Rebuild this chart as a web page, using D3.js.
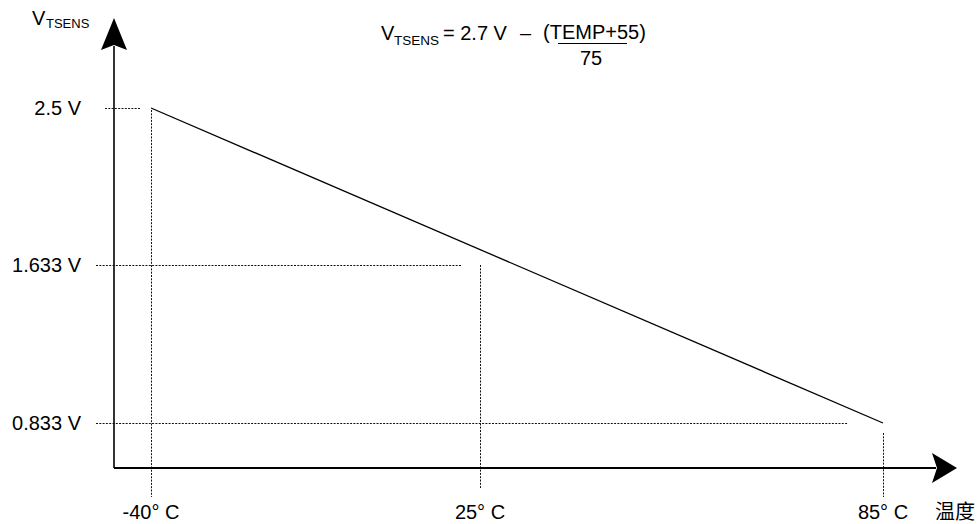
<!DOCTYPE html>
<html>
<head>
<meta charset="utf-8">
<script src="https://cdn.jsdelivr.net/npm/d3@7"></script>
<style>
  html, body { margin: 0; padding: 0; background: #fff; }
  svg { display: block; }
  text { font-family: "Liberation Sans", Arial, Helvetica, sans-serif; fill: #000; }
  .cjk { font-family: "Noto Sans CJK SC", "Noto Sans CJK JP", sans-serif; }
</style>
</head>
<body>
<svg id="chart" width="978" height="524"></svg>
<script>
// ---- data ----
const tempTicks = [-40, 25, 85];
const tempTickLabels = ["-40° C", "25° C", "85° C"];
const voltTicks = [2.5, 1.633, 0.833];
const voltTickLabels = ["2.5 V", "1.633 V", "0.833 V"];
const lineTemps = [-40, 85];
const lineVolts = [2.5, 0.833];
const yAxisTitle = ["V", "TSENS"];
const xAxisTitle = "温度";
const formulaLeft = ["V", "TSENS", "= 2.7 V", "–"];
const formulaNum = "(TEMP+55)";
const formulaDen = "75";

// ---- layout ----
const svg = d3.select("#chart");
const originX = 114, originY = 468;

// schematic (piecewise) scales through the labelled ticks
const x = d3.scaleLinear().domain(tempTicks.slice().sort((a, b) => a - b)).range([151, 480, 883]);
const y = d3.scaleLinear().domain(voltTicks.slice().sort((a, b) => a - b)).range([423, 265, 108]);

// guides
const hStart = [105, 96, 96];
const hGap = [10, 18, 35];
const vTopGap = [2, 0, 10];
const vBottom = [497, 488, 497];
const dash = "2,1.3";

const g = svg.append("g");

// horizontal dotted guides
g.selectAll("line.hg").data(voltTicks).join("line")
  .attr("class", "hg")
  .attr("x1", (d, i) => hStart[i])
  .attr("x2", (d, i) => x(tempTicks[i]) - hGap[i])
  .attr("y1", d => Math.round(y(d)) + 0.5).attr("y2", d => Math.round(y(d)) + 0.5)
  .attr("stroke", "#111").attr("stroke-width", 1)
  .attr("stroke-dasharray", dash);

// vertical dotted guides
g.selectAll("line.vg").data(tempTicks).join("line")
  .attr("class", "vg")
  .attr("x1", d => Math.round(x(d)) + 0.5).attr("x2", d => Math.round(x(d)) + 0.5)
  .attr("y1", (d, i) => y(voltTicks[i]) + vTopGap[i])
  .attr("y2", (d, i) => vBottom[i])
  .attr("stroke", "#111").attr("stroke-width", 1)
  .attr("stroke-dasharray", dash);

// axes
g.append("line").attr("x1", originX).attr("x2", originX).attr("y1", originY).attr("y2", 46)
  .attr("stroke", "#000").attr("stroke-width", 1.6);
g.append("line").attr("x1", originX).attr("x2", 936).attr("y1", originY).attr("y2", originY)
  .attr("stroke", "#000").attr("stroke-width", 1.8);

// arrowheads
g.append("path")
  .attr("d", `M${originX},18 L${originX + 13},50 L${originX},45 L${originX - 13},50 Z`)
  .attr("fill", "#000");
g.append("path")
  .attr("d", `M957,${originY} L932,${originY - 15} L937,${originY} L932,${originY + 15} Z`)
  .attr("fill", "#000");

// main line
const lineGen = d3.line().x(d => x(d[0])).y(d => y(d[1]));
g.append("path")
  .datum(lineTemps.map((t, i) => [t, lineVolts[i]]))
  .attr("d", lineGen)
  .attr("fill", "none").attr("stroke", "#000").attr("stroke-width", 1.3);

// y tick labels
g.selectAll("text.yl").data(voltTicks).join("text")
  .attr("class", "yl")
  .attr("x", 81).attr("y", d => y(d)).attr("dy", "0.37em")
  .attr("text-anchor", "end").attr("font-size", 20)
  .text((d, i) => voltTickLabels[i]);

// x tick labels
g.selectAll("text.xl").data(tempTicks).join("text")
  .attr("class", "xl")
  .attr("x", d => x(d)).attr("y", 519)
  .attr("text-anchor", "middle").attr("font-size", 20)
  .text((d, i) => tempTickLabels[i]);

// x axis title
g.append("text").attr("class", "cjk").attr("x", 935).attr("y", 519)
  .attr("font-size", 20).text(xAxisTitle);

// y axis title
g.append("text").attr("x", 32).attr("y", 25).attr("font-size", 20).text(yAxisTitle[0]);
g.append("text").attr("x", 46).attr("y", 28).attr("font-size", 13).text(yAxisTitle[1]);

// formula
g.append("text").attr("x", 381).attr("y", 40).attr("font-size", 20).text(formulaLeft[0]);
g.append("text").attr("x", 394).attr("y", 45).attr("font-size", 13.5).text(formulaLeft[1]);
g.append("text").attr("x", 443).attr("y", 40).attr("font-size", 20)
  .style("white-space", "pre").text(formulaLeft[2]);
g.append("text").attr("x", 520).attr("y", 40).attr("font-size", 20).text(formulaLeft[3]);
g.append("text").attr("x", 543).attr("y", 39).attr("font-size", 20).text(formulaNum);
g.append("line").attr("x1", 558).attr("x2", 627).attr("y1", 43.5).attr("y2", 43.5)
  .attr("stroke", "#000").attr("stroke-width", 1);
g.append("text").attr("x", 591).attr("y", 65).attr("text-anchor", "middle")
  .attr("font-size", 20).text(formulaDen);
</script>
</body>
</html>
